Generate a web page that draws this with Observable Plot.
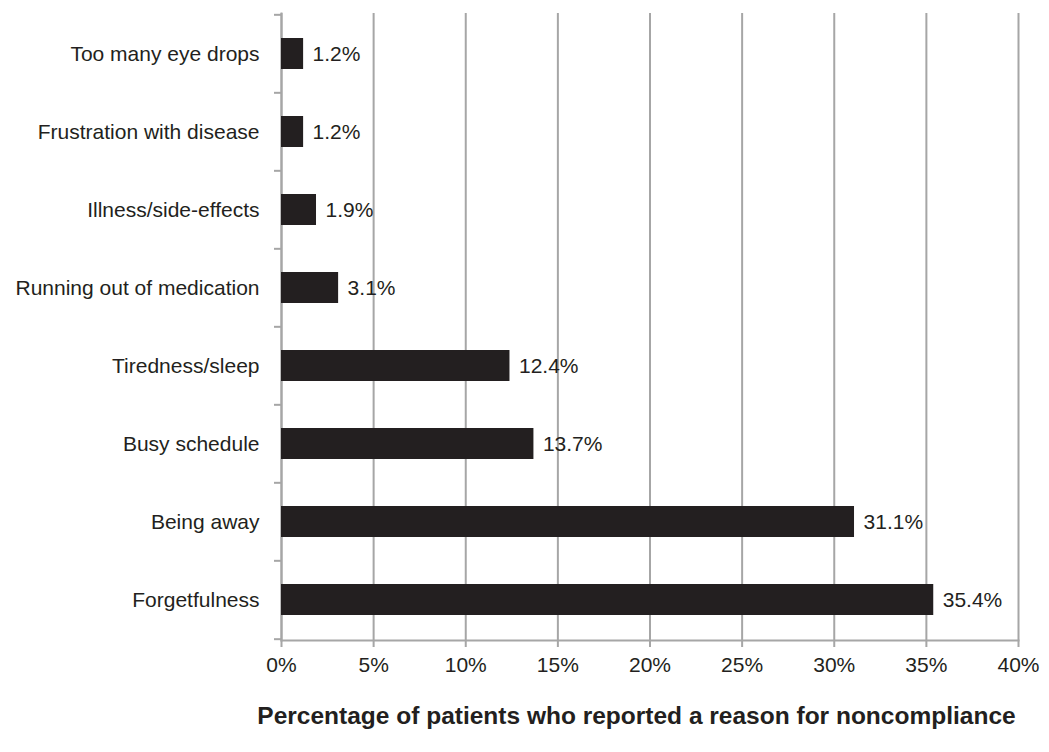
<!DOCTYPE html>
<html>
<head>
<meta charset="utf-8">
<script src="https://cdn.jsdelivr.net/npm/d3@7"></script>
<script src="https://cdn.jsdelivr.net/npm/@observablehq/plot@0.6"></script>
<style>
  body { margin: 0; background: #fff; font-family: "Liberation Sans", Arial, sans-serif; }
  #wrap { position: relative; width: 1049px; height: 752px; }
  #title { position: absolute; left: 0; top: 702px; width: 1049px; box-sizing: border-box; padding-left: 224px;
           text-align: center; font-weight: bold; font-size: 24.5px; color: #231f20; white-space: nowrap; }
</style>
</head>
<body>
<div id="wrap"><div id="chart"></div><div id="title">Percentage of patients who reported a reason for noncompliance</div></div>
<script>
const reasons = ["Too many eye drops", "Frustration with disease", "Illness/side-effects", "Running out of medication",
                 "Tiredness/sleep", "Busy schedule", "Being away", "Forgetfulness"];
const percents = [1.2, 1.2, 1.9, 3.1, 12.4, 13.7, 31.1, 35.4];
const xTicks = [0, 5, 10, 15, 20, 25, 30, 35, 40];

const data = reasons.map((r, i) => ({reason: r, value: percents[i]}));

const W = 1049, H = 690, mT = 13, mB = 50, mL = 281, mR = 31;
const step = (H - mT - mB) / reasons.length;
const grey = "#a6a6a6";
const ink = "#231f20";
const fs = 21;

const chart = Plot.plot({
  width: W, height: H,
  marginTop: mT, marginBottom: mB, marginLeft: mL, marginRight: mR,
  style: {fontFamily: "'Liberation Sans', Arial, sans-serif", fontSize: fs + "px", color: ink, background: "white"},
  x: {domain: [0, 40], ticks: xTicks, tickFormat: d => d + "%"},
  y: {domain: reasons, paddingInner: 0.6, paddingOuter: 0.3},
  marks: [
    Plot.ruleX(xTicks, {x: d => d, stroke: grey, strokeWidth: 2, insetBottom: -7}),
    Plot.frame({anchor: "bottom", stroke: grey, strokeWidth: 2}),
    Plot.frame({anchor: "left", stroke: grey, strokeWidth: 2}),
    Plot.ruleY(reasons, {y: d => d, x1: 0, x2: 0, insetLeft: -7, dy: -step / 2, stroke: grey, strokeWidth: 2}),
    Plot.ruleY(reasons.slice(-1), {y: d => d, x1: 0, x2: 0, insetLeft: -7, dy: step / 2, stroke: grey, strokeWidth: 2}),
    Plot.barX(data, {y: "reason", x: "value", fill: ink}),
    Plot.text(data, {y: "reason", x: "value", text: d => d.value.toFixed(1) + "%", textAnchor: "start", dx: 9, fill: ink, fontSize: fs}),
    Plot.axisX({ticks: xTicks, tickFormat: d => d + "%", tickSize: 0, tickPadding: 17, label: null, fontSize: fs}),
    Plot.axisY({tickSize: 0, tickPadding: 22, label: null, fontSize: fs})
  ]
});
document.getElementById("chart").appendChild(chart);
</script>
</body>
</html>
